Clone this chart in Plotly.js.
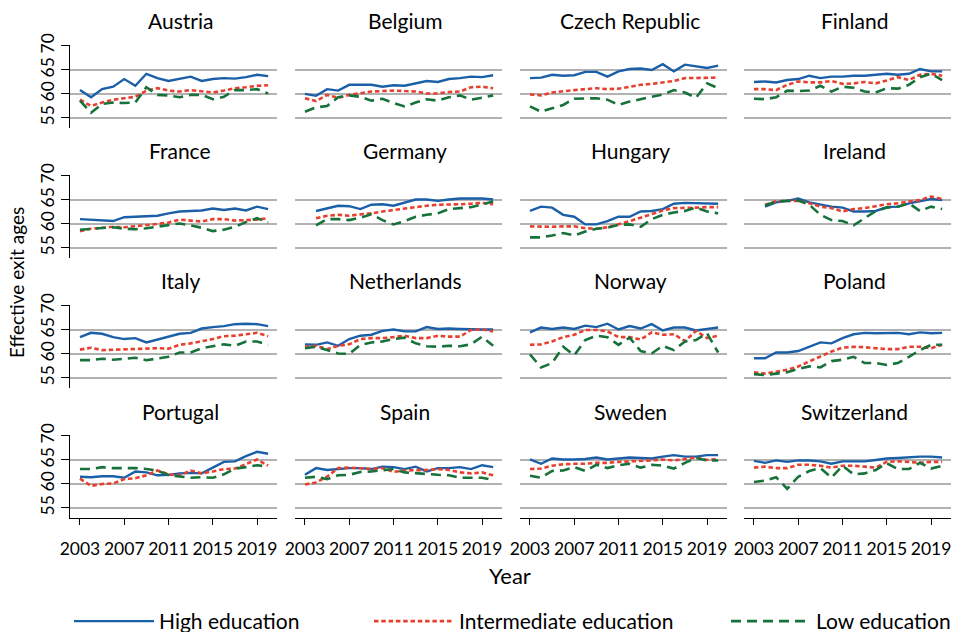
<!DOCTYPE html>
<html>
<head>
<meta charset="utf-8">
<script src="https://cdn.plot.ly/plotly-3.0.1.min.js"></script>
<style>
  html, body { margin: 0; padding: 0; background: #fff; }
  #chart { width: 961px; height: 632px; }
</style>
</head>
<body>
<div id="chart"></div>
<script>
// Effective exit ages by education level, 2003-2020
const years = [2003,2004,2005,2006,2007,2008,2009,2010,2011,2012,2013,2014,2015,2016,2017,2018,2019,2020];
const countries = ['Austria','Belgium','Czech Republic','Finland','France','Germany','Hungary','Ireland',
                   'Italy','Netherlands','Norway','Poland','Portugal','Spain','Sweden','Switzerland'];
const seriesNames = ['High education','Intermediate education','Low education'];
const yTickVals = [55, 60, 65, 70];
const xTickVals = [2003, 2007, 2011, 2015, 2019];

const austriaHigh = [60.8,59.3,61.0,61.5,63.1,61.7,64.2,63.3,62.7,63.1,63.6,62.7,63.1,63.3,63.2,63.5,64.0,63.7];
const austriaMid  = [58.8,57.5,58.2,58.8,59.1,59.4,60.7,61.2,60.7,60.5,60.8,60.6,60.3,60.7,61.2,61.4,61.7,61.8];
const austriaLow  = [58.6,56.1,57.9,58.2,58.1,58.2,61.4,59.8,59.7,59.3,59.8,59.8,58.9,59.4,60.8,60.8,61.0,60.1];

const belgiumHigh = [60.0,59.6,61.0,60.7,61.9,61.9,61.9,61.5,61.8,61.7,62.2,62.7,62.5,63.1,63.3,63.6,63.5,63.9];
const belgiumMid  = [59.1,58.5,59.8,59.2,59.8,60.1,60.5,60.6,60.7,60.6,60.5,60.1,60.1,60.4,60.5,61.4,61.5,61.2];
const belgiumLow  = [56.3,57.2,57.5,59.3,59.7,59.4,58.6,59.0,58.1,57.4,58.2,58.9,58.6,59.3,59.7,58.8,59.2,59.7];

const czechHigh = [63.3,63.4,64.0,63.8,63.9,64.6,64.6,63.6,64.7,65.2,65.3,65.0,66.2,64.7,66.1,65.7,65.4,65.9];
const czechMid  = [59.9,59.7,60.3,60.6,60.8,61.0,61.2,61.0,61.1,61.5,61.9,62.1,62.4,62.7,63.3,63.3,63.3,63.4];
const czechLow  = [57.4,56.3,57.0,57.7,59.0,59.1,59.1,58.8,57.7,58.4,58.9,59.4,59.9,60.8,60.3,59.2,62.2,61.2];

const finlandHigh = [62.5,62.6,62.4,62.9,63.1,63.8,63.3,63.6,63.6,63.8,63.8,64.0,64.2,64.0,64.2,65.2,64.7,64.7];
const finlandMid  = [61.0,61.0,60.8,61.9,62.6,62.4,62.4,62.7,62.1,62.2,62.5,62.2,62.8,63.5,62.9,64.0,64.2,63.8];
const finlandLow  = [59.0,58.9,59.3,60.7,60.6,60.7,61.7,60.5,61.5,61.3,60.5,60.3,61.2,61.1,61.9,63.5,64.2,62.9];

const franceHigh = [61.0,60.9,60.8,60.6,61.4,61.5,61.5,61.7,62.2,62.6,62.7,62.8,63.2,62.9,63.2,62.8,63.6,63.1];
const franceMid  = [58.5,59.0,59.2,59.4,59.3,59.5,59.7,60.0,60.3,60.9,60.7,60.5,61.0,61.0,60.7,60.8,60.9,61.2];
const franceLow  = [58.8,59.0,59.2,59.3,59.0,58.9,59.1,59.4,59.7,60.1,59.7,59.2,58.5,58.8,59.4,60.4,61.2,60.3];

const germanyHigh = [null,62.7,63.3,63.8,63.7,63.1,64.0,64.1,63.8,64.5,65.1,65.1,64.8,65.1,65.3,65.3,65.3,65.1];
const germanyMid  = [null,61.2,61.7,61.9,61.7,62.0,62.2,62.6,62.9,63.3,63.6,63.8,64.0,64.0,64.1,64.2,64.4,64.1];
const germanyLow  = [null,59.7,61.0,61.0,60.8,61.3,62.0,60.8,59.9,60.6,61.5,61.9,62.2,63.1,63.3,63.5,64.1,64.7];

const hungaryHigh = [62.7,63.6,63.4,61.9,61.5,59.9,59.9,60.6,61.5,61.5,62.6,62.7,63.1,64.2,64.4,64.3,64.2,64.2];
const hungaryMid  = [59.5,59.4,59.4,59.5,59.5,59.1,59.0,59.3,59.9,60.6,61.3,62.0,62.8,63.3,63.3,63.4,63.5,63.5];
const hungaryLow  = [57.2,57.2,57.6,58.1,57.6,58.4,59.0,59.2,59.8,59.9,59.4,61.0,61.9,62.4,62.7,63.4,62.6,62.2];

const irelandHigh = [null,63.6,64.5,64.8,65.3,64.5,64.0,63.6,63.4,62.6,62.6,62.7,63.5,63.6,64.3,64.8,65.2,65.0];
const irelandMid  = [null,64.0,64.7,64.8,64.8,64.3,63.6,63.3,62.6,63.1,63.3,63.7,64.1,64.3,64.7,65.0,65.7,65.2];
const irelandLow  = [null,63.8,64.7,64.8,64.9,64.0,61.9,60.8,60.6,59.7,61.2,62.7,63.4,63.6,64.3,62.7,63.6,63.1];

const italyHigh = [63.5,64.4,64.2,63.5,63.1,63.3,62.4,63.0,63.7,64.2,64.4,65.3,65.6,65.8,66.2,66.3,66.2,65.8];
const italyMid  = [60.9,61.3,60.8,60.9,61.0,61.0,61.1,61.2,61.1,61.9,62.2,62.6,63.1,63.7,63.8,64.1,64.4,63.7];
const italyLow  = [58.7,58.7,59.0,58.8,59.0,59.2,58.7,59.0,59.4,60.3,60.3,61.2,61.6,62.0,61.7,62.6,62.6,61.9];

const netherlandsHigh = [62.0,61.9,62.4,61.7,63.1,63.8,64.0,64.8,65.1,64.7,64.7,65.6,65.2,65.3,65.2,65.1,65.1,65.1];
const netherlandsMid  = [61.5,61.7,61.0,61.7,62.0,63.1,63.3,63.3,63.5,63.8,63.3,63.3,63.8,63.6,63.6,65.0,65.1,64.7];
const netherlandsLow  = [61.2,61.5,60.8,60.1,60.0,61.9,62.4,62.6,63.1,63.4,62.2,61.6,61.5,61.7,61.6,62.0,63.6,61.7];

const norwayHigh = [64.5,65.5,65.2,65.5,65.2,65.9,65.6,66.3,65.1,65.8,65.3,66.2,64.9,65.5,65.5,64.9,65.2,65.5];
const norwayMid  = [61.9,62.0,62.6,63.5,64.0,65.0,65.0,64.7,63.5,63.5,63.0,64.5,64.0,64.1,62.7,64.8,63.3,63.8];
const norwayLow  = [59.9,57.2,58.1,61.5,59.7,62.9,63.8,63.5,61.9,63.4,60.6,60.1,61.7,60.8,62.6,62.9,64.3,60.3];

const polandHigh = [59.1,59.1,60.3,60.3,60.6,61.5,62.4,62.2,63.3,64.1,64.4,64.3,64.4,64.4,64.1,64.5,64.3,64.4];
const polandMid  = [56.2,55.9,56.3,56.7,57.4,58.4,59.4,60.5,61.3,61.5,61.4,61.2,61.0,61.0,61.5,61.5,61.2,61.9];
const polandLow  = [55.8,55.6,55.9,56.2,56.9,57.4,57.2,58.5,58.8,59.4,58.1,58.1,57.7,58.1,59.4,60.8,61.9,61.9];

const portugalHigh = [61.5,61.4,61.6,61.6,61.3,62.6,62.4,61.8,61.9,62.2,62.3,62.2,63.4,64.6,64.7,65.8,66.7,66.3];
const portugalMid  = [61.1,59.6,60.0,60.1,61.0,61.2,61.8,62.8,62.0,61.8,62.8,62.2,62.6,63.1,63.2,64.1,65.1,63.8];
const portugalLow  = [63.1,63.1,63.5,63.3,63.3,63.3,63.1,62.8,61.8,61.5,61.3,61.4,61.3,62.0,63.2,63.5,63.9,63.6];

const spainHigh = [61.9,63.3,62.9,63.1,63.3,63.3,63.1,63.6,63.5,63.1,63.6,62.6,63.3,63.3,63.5,63.1,63.9,63.5];
const spainMid  = [59.9,60.3,61.5,63.3,63.4,63.3,63.1,63.3,62.5,62.8,62.8,62.9,63.1,62.9,62.4,62.2,62.4,61.8];
const spainLow  = [61.3,61.5,61.0,61.8,61.9,62.5,62.6,62.9,63.1,62.4,62.2,62.1,61.9,61.8,61.3,61.3,61.3,60.8];

const swedenHigh = [65.1,64.2,65.3,65.1,65.1,65.2,65.5,65.1,65.3,65.5,65.4,65.3,65.7,66.0,65.7,65.7,66.0,66.0];
const swedenMid  = [63.1,63.2,63.8,64.1,64.2,64.2,64.4,64.4,64.6,64.7,64.7,64.9,65.1,64.9,65.2,65.5,65.0,65.2];
const swedenLow  = [61.7,61.3,62.7,62.8,63.5,62.7,64.0,63.3,63.9,64.2,63.4,64.0,63.8,63.2,64.4,65.4,64.9,64.9];

const switzerlandHigh = [64.8,64.4,64.9,64.6,64.9,64.9,64.7,64.2,64.7,64.7,64.7,65.0,65.3,65.4,65.6,65.7,65.7,65.5];
const switzerlandMid  = [63.4,63.6,63.3,63.3,64.0,64.0,63.8,63.4,63.8,63.8,63.6,63.4,64.6,64.7,64.6,64.4,64.6,64.6];
const switzerlandLow  = [60.4,60.7,61.4,59.0,61.5,62.7,63.3,61.3,63.8,62.0,62.2,62.9,64.3,63.1,63.1,64.4,63.2,63.8];

const panelSeries = [
  [austriaHigh, austriaMid, austriaLow],
  [belgiumHigh, belgiumMid, belgiumLow],
  [czechHigh, czechMid, czechLow],
  [finlandHigh, finlandMid, finlandLow],
  [franceHigh, franceMid, franceLow],
  [germanyHigh, germanyMid, germanyLow],
  [hungaryHigh, hungaryMid, hungaryLow],
  [irelandHigh, irelandMid, irelandLow],
  [italyHigh, italyMid, italyLow],
  [netherlandsHigh, netherlandsMid, netherlandsLow],
  [norwayHigh, norwayMid, norwayLow],
  [polandHigh, polandMid, polandLow],
  [portugalHigh, portugalMid, portugalLow],
  [spainHigh, spainMid, spainLow],
  [swedenHigh, swedenMid, swedenLow],
  [switzerlandHigh, switzerlandMid, switzerlandLow]
];

// Styling
const W = 961, H = 632;
const FONT = 'Lato, "Open Sans", sans-serif';
const lineStyles = [
  { color: '#1a5fa8', width: 2.4, dash: 'solid' },
  { color: '#e8402f', width: 2.6, dash: '4.5px,2.8px' },
  { color: '#16723a', width: 2.6, dash: '10px,6px' }
];
const colLeft = [70, 295, 520, 744];
const panelW = 207;
const rowTop = 45, rowH = 83, rowStep = 130;
// one legend per series so each entry sits at its own spot along the bottom
const legendIds = ['legend', 'legend2', 'legend3'];
const legendLeft = [69, 369, 726];

const traces = [];
const layout = {
  width: W, height: H,
  margin: { l: 0, r: 0, t: 0, b: 0, autoexpand: false },
  paper_bgcolor: '#ffffff',
  plot_bgcolor: '#ffffff',
  font: { family: FONT, color: '#000' },
  showlegend: true,
  shapes: [],
  annotations: []
};
legendIds.forEach((id, k) => {
  layout[id] = {
    orientation: 'h',
    xref: 'paper', yref: 'paper',
    x: legendLeft[k] / W, xanchor: 'left',
    y: -10 / H, yanchor: 'bottom',
    font: { family: FONT, size: 21, color: '#000' },
    itemwidth: 80,
    bgcolor: 'rgba(0,0,0,0)'
  };
});

countries.forEach((name, i) => {
  const r = Math.floor(i / 4), c = i % 4;
  const n = i + 1;
  const xa = n === 1 ? 'x' : 'x' + n;
  const ya = n === 1 ? 'y' : 'y' + n;
  const top = rowTop + r * rowStep, bottom = top + rowH;
  const isBottom = r === 3, isLeft = c === 0;

  panelSeries[i].forEach((vals, k) => {
    traces.push({
      type: 'scatter', mode: 'lines',
      x: years, y: vals,
      xaxis: xa, yaxis: ya,
      name: seriesNames[k],
      legend: legendIds[k],
      legendgroup: seriesNames[k],
      showlegend: i === 0,
      connectgaps: false,
      line: { color: lineStyles[k].color, width: lineStyles[k].width, dash: lineStyles[k].dash },
      hoverinfo: 'x+y+name'
    });
  });

  layout['xaxis' + (n === 1 ? '' : n)] = {
    domain: [colLeft[c] / W, (colLeft[c] + panelW) / W],
    anchor: ya,
    range: [2002.1, 2020.8],
    showgrid: false, zeroline: false,
    showline: isBottom, linecolor: '#000', linewidth: 1,
    ticks: isBottom ? 'outside' : '', ticklen: 6, tickwidth: 1, tickcolor: '#000',
    tickvals: xTickVals,
    showticklabels: isBottom,
    ticklabelstandoff: 9,
    tickfont: { family: FONT, size: 17.5, color: '#000' }
  };
  layout['yaxis' + (n === 1 ? '' : n)] = {
    domain: [1 - bottom / H, 1 - top / H],
    anchor: xa,
    range: [52.9, 70.2],
    showgrid: false, zeroline: false,
    showline: isLeft, linecolor: '#000', linewidth: 1,
    ticks: isLeft ? 'outside' : '', ticklen: 8, tickwidth: 1, tickcolor: '#000',
    tickvals: yTickVals,
    showticklabels: isLeft,
    tickangle: -90,
    tickfont: { family: FONT, size: 17.5, color: '#000' }
  };

  // horizontal reference lines at 55, 60 and 65
  [55, 60, 65].forEach(v => {
    layout.shapes.push({
      type: 'line', layer: 'below',
      xref: xa + ' domain', yref: ya,
      x0: 0, x1: 1, y0: v, y1: v,
      line: { color: '#999999', width: 1.5 }
    });
  });

  // panel title
  layout.annotations.push({
    text: name, showarrow: false,
    xref: 'paper', yref: 'paper',
    x: (colLeft[c] + 110) / W, xanchor: 'center',
    y: 1 - (21 + r * rowStep) / H, yanchor: 'middle',
    font: { family: FONT, size: 21, color: '#000' }
  });
});

// shared axis titles
layout.annotations.push({
  text: 'Effective exit ages', showarrow: false, textangle: -90,
  xref: 'paper', yref: 'paper',
  x: 17 / W, xanchor: 'center',
  y: 1 - 283 / H, yanchor: 'middle',
  font: { family: FONT, size: 19, color: '#000' }
});
layout.annotations.push({
  text: 'Year', showarrow: false,
  xref: 'paper', yref: 'paper',
  x: 510 / W, xanchor: 'center',
  y: 1 - 575 / H, yanchor: 'middle',
  font: { family: FONT, size: 22, color: '#000' }
});

Plotly.newPlot('chart', traces, layout, { displayModeBar: false, staticPlot: true });
</script>
</body>
</html>
